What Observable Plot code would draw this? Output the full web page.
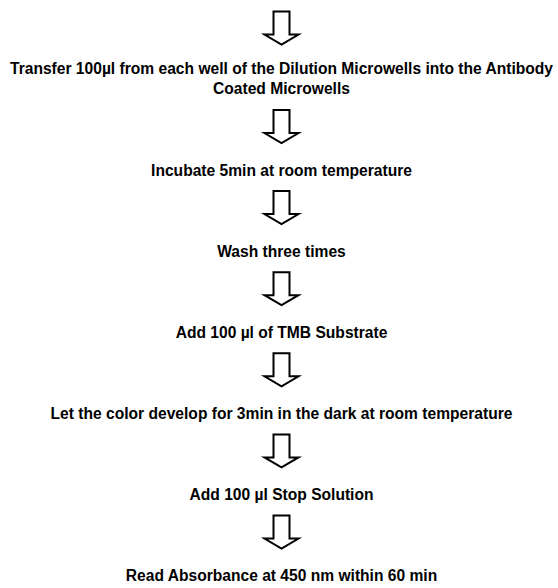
<!DOCTYPE html>
<html>
<head>
<meta charset="utf-8">
<script src="https://cdn.jsdelivr.net/npm/d3@7"></script>
<script src="https://cdn.jsdelivr.net/npm/@observablehq/plot@0.6"></script>
<style>
  html, body { margin: 0; padding: 0; background: #fff; }
  #chart svg { display: block; }
</style>
</head>
<body>
<div id="chart"></div>
<script>
// Protocol steps (text of each box, in order)
const steps = [
  "Transfer 100µl from each well of the Dilution Microwells into the Antibody\nCoated Microwells",
  "Incubate 5min at room temperature",
  "Wash three times",
  "Add 100 µl of TMB Substrate",
  "Let the color develop for 3min in the dark at room temperature",
  "Add 100 µl Stop Solution",
  "Read Absorbance at 450 nm within 60 min"
];

// Layout (derived from step order and line count)
const W = 558, H = 588;
const firstArrow = 27.5, pitch = 81.1, extraPerLine = 17.4, textOffset = 43, textExtra = 6.5;
const arrows = [], labels = [];
let yPos = firstArrow;
steps.forEach((s, i) => {
  const lines = s.split("\n").length;
  arrows.push({i, y: yPos});
  labels.push({i, text: s, y: yPos + textOffset + textExtra * (lines - 1)});
  yPos += pitch + extraPerLine * (lines - 1);
});

// Custom block-arrow symbol (pointing down)
const arrowSymbol = {
  draw(context, size) {
    const r = Math.sqrt(size / Math.PI);
    const sw = r * 8 / 17, hw = r, top = -r * 16.5 / 17, base = r * 6.5 / 17, tip = r * 16.5 / 17;
    context.moveTo(-sw, top);
    context.lineTo(sw, top);
    context.lineTo(sw, base);
    context.lineTo(hw, base);
    context.lineTo(0, tip);
    context.lineTo(-hw, base);
    context.lineTo(-sw, base);
    context.closePath();
  }
};

const chart = Plot.plot({
  width: W,
  height: H,
  marginLeft: 4,
  marginRight: 0,
  marginTop: 0,
  marginBottom: 0,
  style: {fontFamily: "Arial, 'Liberation Sans', sans-serif", background: "#fff"},
  x: {domain: [0, 1], axis: null},
  y: {domain: [0, H], range: [0, H], axis: null},
  marks: [
    Plot.dot(arrows, {
      x: () => 0.5, y: "y", r: 17, symbol: arrowSymbol,
      fill: "white", stroke: "black", strokeWidth: 2, strokeLinejoin: "miter"
    }),
    Plot.text(labels, {
      x: () => 0.5, y: "y", text: "text",
      fontSize: 15.6, fontWeight: "bold", fill: "#000",
      lineHeight: 1.28, textAnchor: "middle"
    })
  ]
});
document.getElementById("chart").appendChild(chart);
</script>
</body>
</html>
